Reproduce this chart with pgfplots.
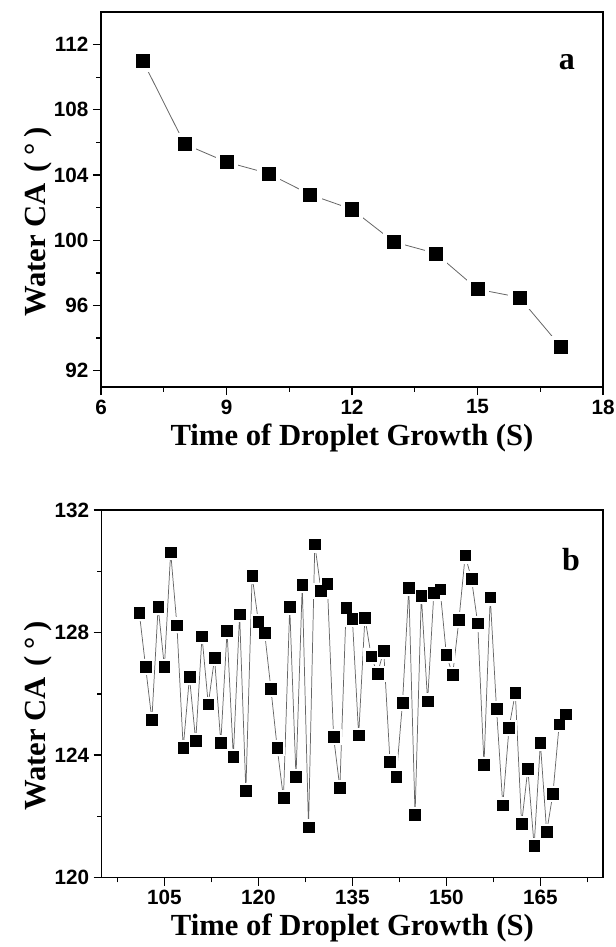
\documentclass[border=0pt]{standalone}
\usepackage{fontspec}
\setmainfont{Liberation Serif}
\setsansfont{Liberation Sans}
\usepackage{pgfplots}
\pgfplotsset{compat=1.18}

\pgfplotstableread{
x y
7 111.0
8 105.9
9 104.8
10 104.1
11 102.8
12 101.9
13 99.9
14 99.2
15 97.0
16 96.5
17 93.45
}\dataa

\pgfplotstableread{
x y
101 128.64
102 126.88
103 125.16
104 128.84
105 126.88
106 130.62
107 128.24
108 124.24
109 126.55
110 124.46
111 127.88
112 125.66
113 127.17
114 124.40
115 128.05
116 123.94
117 128.60
118 122.83
119 129.85
120 128.35
121 127.99
122 126.16
123 124.24
124 122.60
125 128.84
126 123.29
127 129.55
128 121.65
129 130.88
130 129.36
131 129.60
132 124.59
133 122.94
134 128.80
135 128.45
136 124.65
137 128.49
138 127.23
139 126.66
140 127.41
141 123.79
142 123.29
143 125.72
144 129.46
145 122.05
146 129.21
147 125.76
148 129.30
149 129.41
150 127.27
151 126.62
152 128.41
153 130.52
154 129.76
155 128.30
156 123.69
157 129.15
158 125.51
159 122.37
160 124.90
161 126.03
162 121.76
163 123.55
164 121.04
165 124.40
166 121.50
167 122.74
168 125.01
169 125.33
}\datab

\pgfplotsset{
  panel/.style={
    scale only axis,
    axis line style={line width=1.1pt, black},
    tick style={line width=1pt, black},
    tick align=outside,
    tick pos=left,
    major tick length=6pt,
    minor tick length=3.5pt,
    ticklabel style={font=\sffamily\bfseries\fontsize{15.5}{18}\selectfont},
    /pgf/number format/assume math mode=true,
    label style={font=\bfseries\fontsize{23}{27}\selectfont},
    xlabel style={at={(axis description cs:0.5,-0.136)}, anchor=center},
    ylabel style={at={(axis description cs:-0.126,0.44)}, anchor=center},
    xlabel={Time of Droplet Growth (S)},
    ylabel={Water CA\hspace{0.35em}(\hspace{0.2em}°\hspace{0.2em})},
    clip=false,
  },
}

\begin{document}
\begin{tikzpicture}
\path[use as bounding box] (0,0) rectangle (461.25pt,-710.25pt);

\begin{axis}[panel,
  at={(75.75pt,-9pt)}, anchor=north west,
  width=376.5pt, height=281.25pt,
  xmin=6, xmax=18, ymin=91, ymax=114,
  xtick={6,9,12,15,18}, minor xtick={7.5,10.5,13.5,16.5},
  ytick={92,96,100,104,108,112}, minor ytick={94,98,102,106,110},
]
\addplot[gray!80!black, line width=0.6pt] table[x=x,y=y] {\dataa};
\addplot[white, only marks, mark=square*, mark size=8pt] table[x=x,y=y] {\dataa};
\addplot[black, only marks, mark=square*, mark size=4.9pt] table[x=x,y=y] {\dataa};
\node[font=\bfseries\fontsize{24}{28}\selectfont] at (axis description cs:0.928,0.867) {a};
\end{axis}

\begin{axis}[panel,
  at={(76.3pt,-382.5pt)}, anchor=north west,
  width=376pt, height=275.8pt,
  xmin=95, xmax=175, ymin=120, ymax=132,
  xtick={105,120,135,150,165}, minor xtick={97.5,112.5,127.5,142.5,157.5,172.5},
  ytick={120,124,128,132}, minor ytick={122,126,130},
]
\addplot[gray!80!black, line width=0.55pt] table[x=x,y=y] {\datab};
\addplot[white, only marks, mark=square*, mark size=5.6pt] table[x=x,y=y] {\datab};
\addplot[black, only marks, mark=square*, mark size=4pt] table[x=x,y=y] {\datab};
\node[font=\bfseries\fontsize{24}{28}\selectfont] at (axis description cs:0.936,0.864) {b};
\end{axis}
\end{tikzpicture}
\end{document}
